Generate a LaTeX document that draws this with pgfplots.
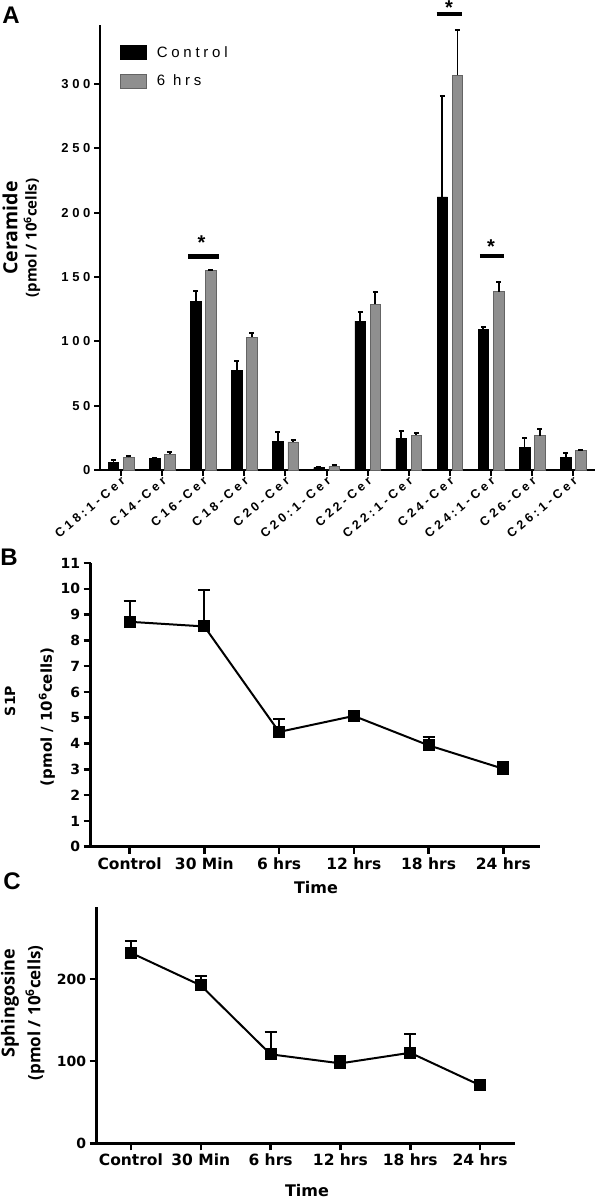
\documentclass[border=0pt]{standalone}
\usepackage{fontspec}
\usepackage{pgfplots}
\usepackage{pgfplotstable}
\pgfplotsset{compat=1.18}
\setmainfont{Liberation Sans}
\newfontfamily\trk{Liberation Sans}[LetterSpace=28]
\newfontfamily\trkl{Liberation Sans}[LetterSpace=25]
\newfontfamily\dvs{DejaVu Sans}
\newfontfamily\osans{Open Sans}
\definecolor{barg}{RGB}{143,143,143}
\definecolor{bargl}{RGB}{100,100,100}

\pgfplotstableread{
x c ce s se
0 5.7 2.1 9.9 1.2
1 8.8 0.8 12.2 1.5
2 131.3 8.0 155.4 0.0
3 77.7 6.8 103.3 3.1
4 22.5 7.0 21.8 1.5
5 1.8 0.7 2.9 0.7
6 115.8 7.0 129.0 9.5
7 24.6 5.9 27.2 1.8
8 212.4 78.4 306.9 35.5
9 109.6 1.3 138.6 7.7
10 17.6 7.3 26.7 5.4
11 10.1 3.1 15.0 0.5
}\cerdata

\pgfplotstableread{
x y e
0 8.72 0.79
1 8.54 1.42
2 4.45 0.49
3 5.07 0.08
4 3.93 0.34
5 3.02 0.28
}\sipdata

\pgfplotstableread{
x y e
0 231.9 14.6
1 192.2 11.3
2 108.3 27.1
3 97.3 9.3
4 110.2 22.4
5 70.6 3.5
}\sphdata

\begin{document}
\begin{tikzpicture}
\path[use as bounding box] (0pt,0pt) rectangle (595pt,1199pt);
\clip (0pt,0pt) rectangle (595pt,1199pt);

% ---------------- Panel A ----------------
\begin{axis}[
  at={(100pt,729pt)}, anchor=south west,
  scale only axis, width=495pt, height=445pt,
  xmin=-0.511, xmax=11.53, ymin=0, ymax=346,
  axis x line*=bottom, axis y line*=left,
  axis line style={line width=2pt},
  tick align=outside, major tick length=6pt,
  tick style={line width=2pt, black},
  xtick={0,...,11},
  xticklabels={C18:1-Cer,C14-Cer,C16-Cer,C18-Cer,C20-Cer,C20:1-Cer,C22-Cer,C22:1-Cer,C24-Cer,C24:1-Cer,C26-Cer,C26:1-Cer},
  ytick={0,50,...,300},
  /pgf/number format/assume math mode=true,
  yticklabel style={font=\trk\bfseries\fontsize{13}{14}\selectfont},
  xticklabel style={font=\trk\bfseries\fontsize{12.5}{13}\selectfont, rotate=40, anchor=east, xshift=3pt, yshift=-4pt},
  clip=false,
  legend style={draw=none, fill=none, at={(0.0404,0.957)}, anchor=north west,
    inner sep=0pt, row sep=12pt, font=\trkl\fontsize{15}{16}\selectfont,
    nodes={inner sep=2pt, anchor=west}},
  legend cell align=left,
]
\addplot[ybar, bar width=10.5pt, bar shift=0pt, fill=black, draw=black,
  legend image code/.code={\fill[black] (0pt,-7pt) rectangle (26pt,7pt);},
  error bars/.cd, y dir=plus, y explicit,
  error bar style={line width=1.8pt, black},
  error mark options={rotate=90, line width=1.8pt, mark size=2.5pt, black}]
  table[x expr=\thisrow{x}-0.185, y=c, y error=ce] {\cerdata};
\addlegendentry{\hspace{8pt}Control}
\addplot[ybar, bar width=10.5pt, bar shift=0pt, fill=barg, draw=bargl, line width=0.6pt,
  legend image code/.code={\filldraw[fill=barg, draw=bargl, line width=0.6pt] (0pt,-7pt) rectangle (26pt,7pt);},
  error bars/.cd, y dir=plus, y explicit,
  error bar style={line width=1.8pt, black},
  error mark options={rotate=90, line width=1.8pt, mark size=2.5pt, black}]
  table[x expr=\thisrow{x}+0.185, y=s, y error=se] {\cerdata};
\addlegendentry{\hspace{8pt}6 hrs}
% significance bars
\addplot[black, line width=4.5pt, forget plot] coordinates {(1.63,165.8) (2.38,165.8)};
\addplot[black, line width=4.5pt, forget plot] coordinates {(7.68,354.4) (8.29,354.4)};
\addplot[black, line width=4.5pt, forget plot] coordinates {(8.73,166.3) (9.32,166.3)};
\node[font=\bfseries\fontsize{20}{20}\selectfont, inner sep=0pt] at (axis cs:1.96,176.5) {*};
\node[font=\bfseries\fontsize{20}{20}\selectfont, inner sep=0pt] at (axis cs:7.98,359.5) {*};
\node[font=\bfseries\fontsize{20}{20}\selectfont, inner sep=0pt] at (axis cs:9.00,174.0) {*};
\end{axis}

\node[font=\bfseries\fontsize{24}{24}\selectfont, inner sep=0pt] at (11pt,1184pt) {A};
\node[rotate=90, font=\osans\bfseries\fontsize{19.5}{20}\selectfont, inner sep=0pt] at (10pt,971pt) {Ceramide};
\node[rotate=90, font=\osans\bfseries\fontsize{15}{16}\selectfont, inner sep=0pt] at (32pt,961pt) {(pmol / 10\textsuperscript{6}cells)};

% ---------------- Panel B ----------------
\begin{axis}[
  at={(90.7pt,352.3pt)}, anchor=south west,
  scale only axis, width=449.3pt, height=283.7pt,
  xmin=-0.52, xmax=5.49, ymin=0, ymax=11,
  axis x line*=bottom, axis y line*=left,
  axis line style={line width=2.5pt},
  tick align=outside, major tick length=7pt,
  tick style={line width=2.5pt, black},
  xtick={0,...,5},
  xticklabels={Control,30 Min,6 hrs,12 hrs,18 hrs,24 hrs},
  ytick={0,...,11},
  /pgf/number format/assume math mode=true,
  yticklabel style={font=\dvs\bfseries\fontsize{14}{15}\selectfont},
  xticklabel style={font=\dvs\bfseries\fontsize{15.5}{16}\selectfont},
  clip=false,
]
\addplot[black, line width=2pt, mark=square*, mark size=5pt, mark options={solid},
  error bars/.cd, y dir=plus, y explicit,
  error bar style={line width=2pt, black},
  error mark options={rotate=90, line width=2pt, mark size=6pt, black}]
  table[x=x, y=y, y error=e] {\sipdata};
\end{axis}

\node[font=\bfseries\fontsize{24}{24}\selectfont, inner sep=0pt] at (9pt,641.5pt) {B};
\node[rotate=90, font=\dvs\bfseries\fontsize{14}{15}\selectfont, inner sep=0pt] at (10pt,498pt) {S1P};
\node[rotate=90, font=\dvs\bfseries\fontsize{15}{16}\selectfont, inner sep=0pt] at (47pt,482pt) {(pmol / 10\textsuperscript{6}cells)};
\node[font=\dvs\bfseries\fontsize{16}{16}\selectfont, inner sep=0pt] at (316pt,311pt) {Time};

% ---------------- Panel C ----------------
\begin{axis}[
  at={(96.7pt,55.7pt)}, anchor=south west,
  scale only axis, width=418.3pt, height=236.6pt,
  xmin=-0.49, xmax=5.5, ymin=0, ymax=288,
  axis x line*=bottom, axis y line*=left,
  axis line style={line width=2.5pt},
  tick align=outside, major tick length=7pt,
  tick style={line width=2.5pt, black},
  xtick={0,...,5},
  xticklabels={Control,30 Min,6 hrs,12 hrs,18 hrs,24 hrs},
  ytick={0,100,200},
  /pgf/number format/assume math mode=true,
  yticklabel style={font=\dvs\bfseries\fontsize{14}{15}\selectfont},
  xticklabel style={font=\dvs\bfseries\fontsize{15.5}{16}\selectfont},
  clip=false,
]
\addplot[black, line width=2pt, mark=square*, mark size=5pt, mark options={solid},
  error bars/.cd, y dir=plus, y explicit,
  error bar style={line width=2pt, black},
  error mark options={rotate=90, line width=2pt, mark size=6pt, black}]
  table[x=x, y=y, y error=e] {\sphdata};
\end{axis}

\node[font=\bfseries\fontsize{24}{24}\selectfont, inner sep=0pt] at (12pt,318pt) {C};
\node[rotate=90, font=\osans\bfseries\fontsize{18}{19}\selectfont, inner sep=0pt] at (10pt,196pt) {Sphingosine};
\node[rotate=90, font=\osans\bfseries\fontsize{17}{18}\selectfont, inner sep=0pt] at (35pt,186pt) {(pmol / 10\textsuperscript{6}cells)};
\node[font=\dvs\bfseries\fontsize{16}{16}\selectfont, inner sep=0pt] at (307pt,8pt) {Time};
\end{tikzpicture}
\end{document}
